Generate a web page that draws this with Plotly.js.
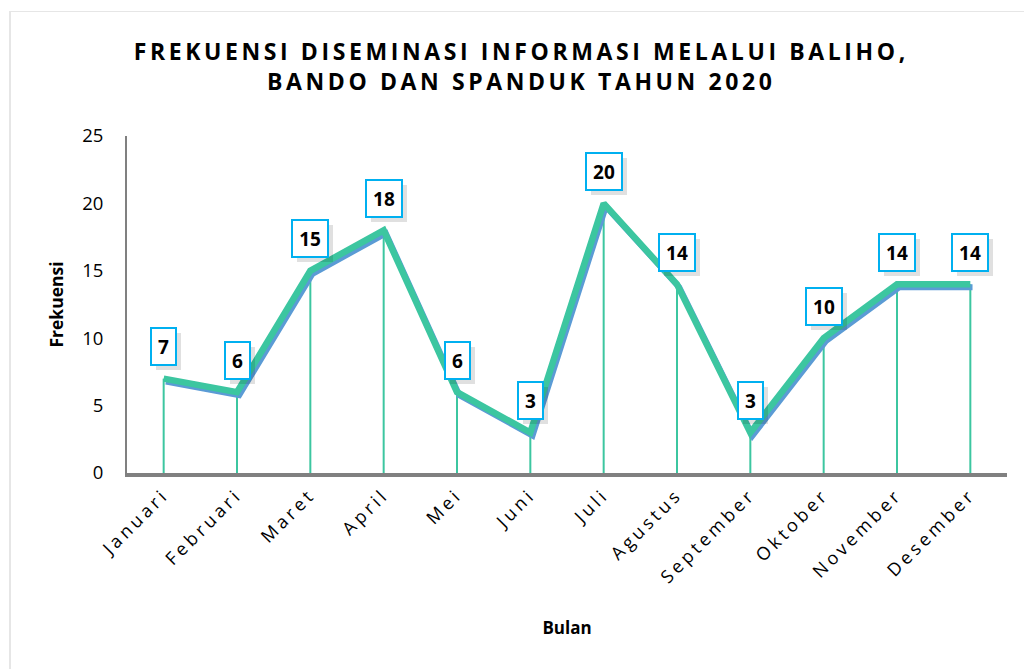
<!DOCTYPE html>
<html>
<head>
<meta charset="utf-8">
<script src="https://cdn.plot.ly/plotly-3.0.1.min.js"></script>
<style>
  html, body { margin: 0; padding: 0; background: #fff; }
  #frame { position: absolute; left: 9px; top: 11px; width: 1015px; height: 658px;
           border-left: 2px solid #e6e6e6; border-top: 1px solid #e6e6e6; box-sizing: border-box; }
  #chart { position: absolute; left: 0; top: 0; width: 1024px; height: 669px; }
  .gtitle { letter-spacing: 3.6px; }
  .xtick text { letter-spacing: 3.6px; }
</style>
</head>
<body>
<div id="frame"></div>
<div id="chart"></div>
<script>
const months = ["Januari","Februari","Maret","April","Mei","Juni","Juli","Agustus","September","Oktober","November","Desember"];
const frekuensi = [7, 6, 15, 18, 6, 3, 20, 14, 3, 10, 14, 14];
const yTicks = [0, 5, 10, 15, 20, 25];

const teal = "#3CC6A0";
const blue = "#5B9BD5";
const idx = months.map((m, i) => i);

// drop lines from each point to the axis
const dropX = [], dropY = [];
idx.forEach((i) => { dropX.push(i, i, null); dropY.push(0, frekuensi[i], null); });

const traces = [
  { x: dropX, y: dropY, mode: "lines", line: { color: teal, width: 2 }, hoverinfo: "skip", showlegend: false },
  { x: idx, y: frekuensi, xaxis: "x2", yaxis: "y2", mode: "lines", line: { color: blue, width: 6 }, hoverinfo: "skip", showlegend: false },
  { x: idx, y: frekuensi, xaxis: "x3", yaxis: "y3", mode: "lines", line: { color: teal, width: 6.5 }, showlegend: false }
];

const labelFont = { family: "Open Sans, sans-serif", size: 19, color: "#000", weight: 700 };
const annotations = [];
idx.forEach((i) => {
  const txt = String(frekuensi[i]);
  const w = 11 * txt.length + 2;
  // soft drop shadow behind each label box
  annotations.push({
    x: i, y: frekuensi[i], xref: "x", yref: "y", text: "&nbsp;", width: w, height: 25,
    showarrow: true, arrowcolor: "rgba(0,0,0,0)", arrowwidth: 0.1, ax: 5, ay: -27,
    font: labelFont,
    bgcolor: "rgba(0,0,0,0.12)", bordercolor: "rgba(0,0,0,0)", borderwidth: 2, borderpad: 5
  });
  annotations.push({
    x: i, y: frekuensi[i], xref: "x", yref: "y", text: txt, width: w, height: 25,
    showarrow: true, arrowcolor: "rgba(0,0,0,0)", arrowwidth: 0.1, ax: 0, ay: -32,
    font: labelFont, bgcolor: "#fff", bordercolor: "#00B0F0", borderwidth: 2, borderpad: 5
  });
});

const layout = {
  width: 1024, height: 669,
  margin: { l: 127, r: 17, t: 136, b: 196 },
  paper_bgcolor: "rgba(0,0,0,0)", plot_bgcolor: "rgba(0,0,0,0)",
  font: { family: "Open Sans, sans-serif", color: "#000" },
  title: {
    text: "FREKUENSI DISEMINASI INFORMASI MELALUI BALIHO,<br>BANDO DAN SPANDUK TAHUN 2020",
    font: { family: "Open Sans, sans-serif", size: 23, weight: 700, color: "#000" },
    x: 0.448, xref: "paper", xanchor: "center", y: 0.91, yanchor: "top"
  },
  xaxis: {
    range: [-0.5, 11.5], tickvals: idx, ticktext: months, tickangle: -45,
    tickfont: { family: "Open Sans, sans-serif", size: 18, color: "#000" },
    showgrid: false, zeroline: false, showline: true, linecolor: "#808080", linewidth: 4,
    ticks: "", fixedrange: true,
    title: { text: "Bulan", font: { family: "Open Sans, sans-serif", size: 17, weight: 700, color: "#000" }, standoff: 36 }
  },
  yaxis: {
    range: [0, 25], tickvals: yTicks, ticktext: yTicks.map(String),
    tickfont: { family: "Open Sans, sans-serif", size: 18.5, color: "#000" },
    showgrid: false, zeroline: false, showline: true, linecolor: "#808080", linewidth: 2,
    ticks: "", ticklabelstandoff: 18, fixedrange: true,
    title: { text: "Frekuensi", font: { family: "Open Sans, sans-serif", size: 17.5, weight: 700, color: "#000" }, standoff: 14 }
  },
  xaxis2: { overlaying: "x", range: [-0.53, 11.47], visible: false, fixedrange: true },
  yaxis2: { overlaying: "y", range: [0.22, 25.22], visible: false, fixedrange: true },
  xaxis3: { overlaying: "x", range: [-0.5, 11.5], visible: false, fixedrange: true },
  yaxis3: { overlaying: "y", range: [0, 25], visible: false, fixedrange: true },
  annotations: annotations,
  showlegend: false
};

Plotly.newPlot("chart", traces, layout, { displayModeBar: false, staticPlot: true });
</script>
</body>
</html>
